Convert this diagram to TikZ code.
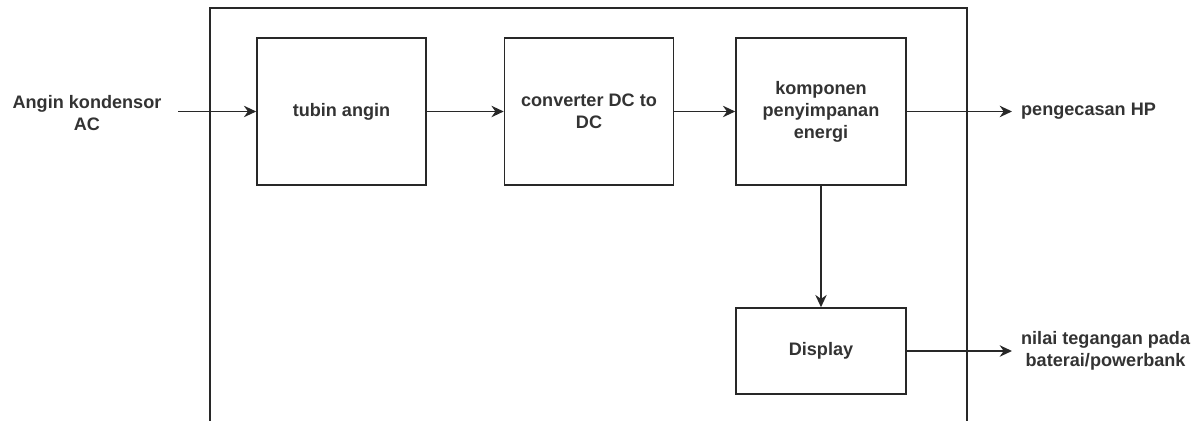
\documentclass[tikz,border=0pt]{standalone}
\usepackage{fontspec}
\setmainfont{Liberation Sans}
\usetikzlibrary{arrows.meta}
\definecolor{garis}{RGB}{40,40,40}
\definecolor{tulisan}{RGB}{51,51,51}
\def \hurufblok{\bfseries\fontsize{10.3}{12.5}\selectfont}
\tikzset{
 blok/.style={draw=garis, line width=0.9pt, align=center, inner sep=2pt,
  font=\hurufblok, text=tulisan},
 teks/.style={align=center, inner xsep=5pt, inner ysep=2pt,
  font=\hurufblok, text=tulisan},
 panah/.style={draw=garis, line width=0.9pt, -{Stealth[length=7pt,width=6.5pt]}},
 bingkai/.style={draw=garis, line width=0.9pt}
}

\begin{document}
\begin{tikzpicture}[x=0.02cm, y=-0.02cm]
\useasboundingbox (0,0) rectangle (1201,421);

% kotak besar, terpotong di bawah
\draw[bingkai] (210,421) |- (967,8) -- (967,421);

% blok
\node[blok, minimum width=3.38cm, minimum height=2.94cm] (tubin) at (341.5,111.5) {tubin angin};
\node[blok, minimum width=3.38cm, minimum height=2.94cm] (konverter) at (589,111.5) {converter DC to\\DC};
\node[blok, minimum width=3.4cm, minimum height=2.94cm] (energi) at (821,111.5) {komponen\\penyimpanan\\energi};
\node[blok, minimum width=3.4cm, minimum height=1.72cm] (display) at (821,351) {Display};

% teks luar
\node[teks] (angin) at (87,113) {Angin kondensor\\AC};
\node[teks, anchor=west] (hp) at (1012,111.5) {pengecasan HP};
\node[teks, anchor=west] (nilai) at (1012,351) {nilai tegangan pada\\baterai/powerbank};

% panah
\draw[panah, shorten <=0.15cm] (angin.east |- tubin.west) -- (tubin.west);
\draw[panah] (tubin.east) -- (konverter.west);
\draw[panah] (konverter.east) -- (energi.west);
\draw[panah] (energi.east) -- (hp.west);
\draw[panah] (energi.south) -- (display.north);
\draw[panah] (display.east) -- (nilai.west);
\end{tikzpicture}
\end{document}
